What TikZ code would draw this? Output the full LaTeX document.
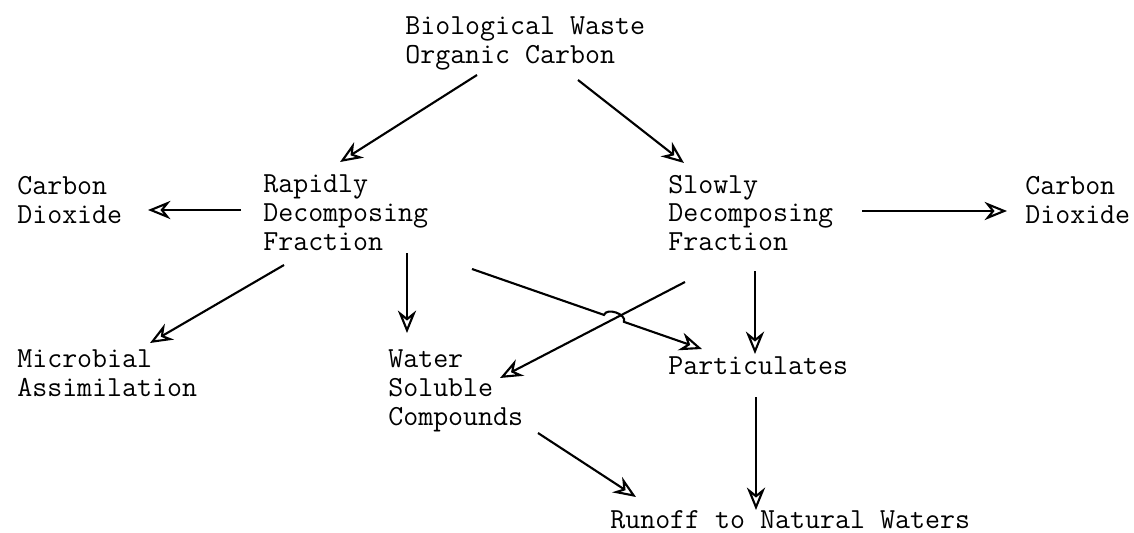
\documentclass[tikz,border=0pt]{standalone}
\usepackage{fontspec}
\usetikzlibrary{arrows.meta,calc}

\begin{document}
\begin{tikzpicture}[x=0.025cm,y=-0.025cm,
   font=\ttfamily\fontsize{20.7pt}{20.6pt}\selectfont,
   box/.style={anchor=west,align=left,inner sep=0pt},
   flow/.style={-{Stealth[open,length=16pt,width=13pt]},line width=1.5pt}]
\useasboundingbox (0,0) rectangle (1134,533);
\node[box] (BW) at (405,43) {Biological Waste\\Organic Carbon};
\node[box] (CL) at (17,200) {Carbon\\Dioxide};
\node[box] (RD) at (263,213) {Rapidly\\Decomposing\\Fraction};
\node[box] (SD) at (668,213) {Slowly\\Decomposing\\Fraction};
\node[box] (CR) at (1025,200) {Carbon\\Dioxide};
\node[box] (MA) at (17,373) {Microbial\\Assimilation};
\node[box] (WS) at (388,391) {Water\\Soluble\\Compounds};
\node[box] (P) at (668,366) {Particulates};
\node[box] (RN) at (610,520) {Runoff to Natural Waters};
\draw[flow] ([shift={(72,32)}]BW.west) -- ([shift={(77,-51)}]RD.west);
\draw[flow] ([shift={(173,37)}]BW.west) -- ([shift={(16,-50)}]SD.west);
\draw[flow] ([shift={(-22,-3)}]RD.west) -- ([shift={(131,10)}]CL.west);
\draw[flow] ([shift={(194,-2)}]SD.west) -- ([shift={(-18,11)}]CR.west);
\draw[flow] ([shift={(21,52)}]RD.west) -- ([shift={(133,-30)}]MA.west);
\draw[flow] ([shift={(144,40)}]RD.west) -- ([shift={(19,-58)}]WS.west);
\draw[flow] ([shift={(17,69)}]SD.west) -- ([shift={(112,-13)}]WS.west);
\draw[flow] ([shift={(87,58)}]SD.west) -- ([shift={(87,-12)}]P.west);
\draw[flow] ([shift={(150,42)}]WS.west) -- ([shift={(26,-23)}]RN.west);
\draw[flow] ([shift={(88,31)}]P.west) -- ([shift={(146,-10)}]RN.west);
% rapidly -> particulates, hopping over the other line
\coordinate (hs) at ([shift={(209,56)}]RD.west);
\coordinate (ht) at ([shift={(34,-17)}]P.west);
\draw[flow] (hs) -- ($(hs)!0.574!(ht)$) to[bend left=90] ($(hs)!0.661!(ht)$) -- (ht);
\end{tikzpicture}
\end{document}
